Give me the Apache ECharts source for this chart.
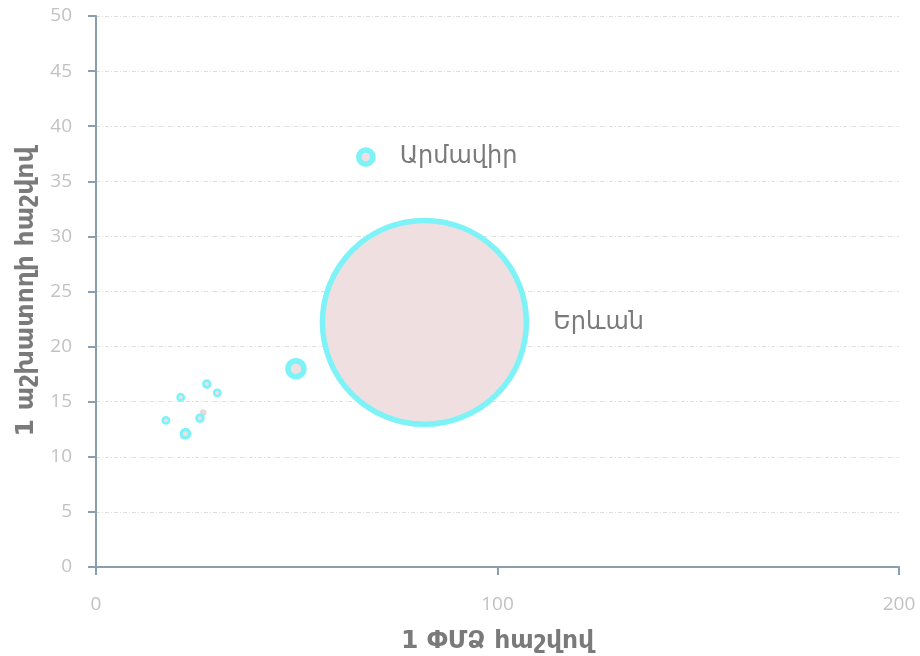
<!DOCTYPE html>
<html>
<head>
<meta charset="utf-8">
<script src="https://cdn.jsdelivr.net/npm/echarts@6/dist/echarts.min.js"></script>
<style>
  html, body { margin: 0; padding: 0; background: #fff; }
  #chart { width: 920px; height: 656px; }
</style>
</head>
<body>
<div id="chart"></div>
<script>
// bubble data: one per region
const names = ["Երևան", "Արմավիր", "", "", "", "", "", "", ""]
const perGdp = [81.8, 67.2, 49.8, 27.6, 30.2, 21.1, 25.9, 17.4, 22.3]
const perWorker = [22.2, 37.2, 18.0, 16.6, 15.8, 15.4, 13.5, 13.3, 12.1]
const weight = [2600, 12.5, 16, 2.9, 2.5, 2.5, 2.9, 2.5, 4.4]

// faint points without outline
const fadedGdp = [26.7, 21.7]
const fadedWorker = [14.0, 11.9]
const fadedWeight = [2.8, 3.0]

const xTicks = [0, 100, 200]
const yTicks = [0, 5, 10, 15, 20, 25, 30, 35, 40, 45, 50]

const sizeOf = v => Math.sqrt(v) * 4

let chart = null

const axisName = { color: "#7a7a7a", fontSize: 25, fontWeight: "bold", fontFamily: "DejaVu Sans, sans-serif" }

const _initChart = () => {
  chart.setOption({
    animation: false,
    textStyle: { fontFamily: "Open Sans, DejaVu Sans, sans-serif" },
    grid: { left: 96, right: 21, top: 16, bottom: 89, outerBoundsMode: "none", containLabel: false },
    xAxis: {
      type: "value",
      min: xTicks[0],
      max: xTicks[xTicks.length - 1],
      interval: 100,
      name: "1 ՓՄՁ հաշվով",
      nameLocation: "middle",
      nameGap: 62,
      nameTextStyle: axisName,
      axisLine: { lineStyle: { color: "#8a9eae", width: 2 } },
      axisTick: { length: 8, lineStyle: { color: "#8a9eae", width: 2 } },
      axisLabel: { color: "#c2c2c2", fontSize: 19, margin: 28 },
      splitLine: { show: false }
    },
    yAxis: {
      type: "value",
      min: yTicks[0],
      max: yTicks[yTicks.length - 1],
      interval: 5,
      name: "1 աշխատողի հաշվով",
      nameLocation: "middle",
      nameGap: 50,
      nameTextStyle: axisName,
      axisLine: { show: true, lineStyle: { color: "#8a9eae", width: 2 } },
      axisTick: { show: true, length: 8, lineStyle: { color: "#8a9eae", width: 2 } },
      axisLabel: { color: "#c2c2c2", fontSize: 19, margin: 24 },
      splitLine: { lineStyle: { color: "#dedede", type: [4, 2, 1, 2] } }
    },
    series: [
      {
        type: "scatter",
        data: fadedGdp.map((x, i) => [x, fadedWorker[i], fadedWeight[i]]),
        symbolSize: d => sizeOf(d[2]),
        itemStyle: { color: "#e4dadb", opacity: 1 }
      },
      {
        type: "scatter",
        // outline thickness grows with bubble size, capped
        data: perGdp.map((x, i) => ({
          name: names[i],
          value: [x, perWorker[i], weight[i]],
          itemStyle: { borderWidth: Math.min(5.5, sizeOf(weight[i]) * 0.4) }
        })),
        symbolSize: d => sizeOf(d[2]),
        itemStyle: { color: "#f0dfe0", borderColor: "#7df3f8", opacity: 1 },
        label: {
          show: true,
          position: "right",
          distance: 24,
          formatter: p => p.name,
          color: "#7a7a7a",
          fontSize: 24,
          fontFamily: "DejaVu Sans, sans-serif"
        }
      }
    ]
  })
}

chart = echarts.init(document.getElementById("chart"))
_initChart()
</script>
</body>
</html>
